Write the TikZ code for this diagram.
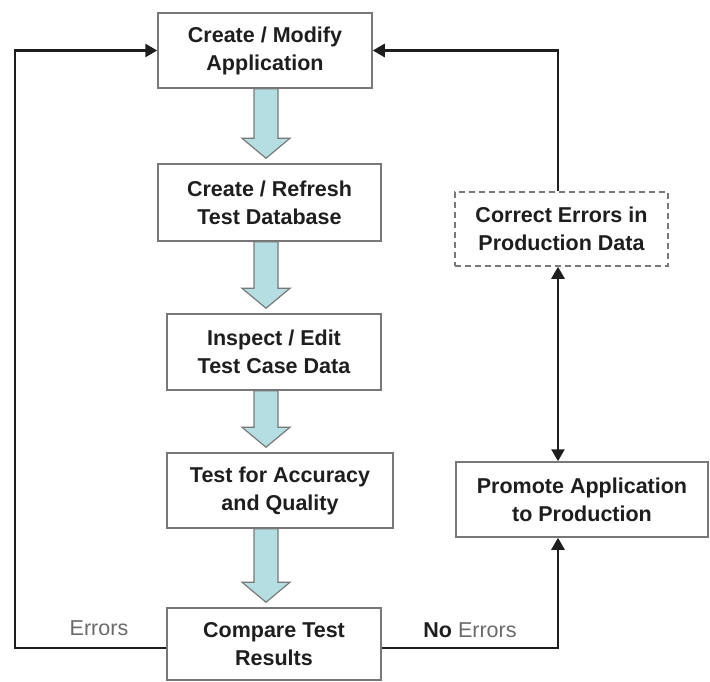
\documentclass[tikz,border=0pt]{standalone}
\usepackage{fontspec}
\setmainfont{Liberation Sans}
\usetikzlibrary{arrows.meta,calc}
\definecolor{boxline}{RGB}{120,120,120}
\definecolor{flowfill}{RGB}{180,222,226}
\definecolor{txtgray}{RGB}{105,105,105}
\definecolor{ink}{RGB}{30,30,30}

\tikzset{
  box/.style={rectangle,draw=boxline,line width=1.5pt,fill=white,align=center,
    font=\fontsize{21.5}{28}\selectfont\bfseries,text=ink,inner sep=2pt},
  conn/.style={draw=ink,line width=2.6pt},
  tip/.style={-{Triangle[length=12pt,width=13pt]}},
  flowarrow/.style={fill=flowfill,draw=boxline,line width=1.2pt},
  tag/.style={font=\fontsize{21.5}{28}\selectfont,text=txtgray}
}

\begin{document}
\begin{tikzpicture}[x=1pt,y=-1pt]
\useasboundingbox (0,0) rectangle (710,682);
% test cycle, left column
\node (b1) at (265,50.5) [box,minimum width=214pt,minimum height=75pt] {Create / Modify\\Application};
\node (b2) at (269.5,202.5) [box,minimum width=223pt,minimum height=77pt] {Create / Refresh\\Test Database};
\node (b3) at (274,352) [box,minimum width=214pt,minimum height=76pt] {Inspect / Edit\\Test Case Data};
\node (b4) at (280,490.5) [box,minimum width=226pt,minimum height=75pt] {Test for Accuracy\\and Quality};
\node (b5) at (274,644) [box,minimum width=214pt,minimum height=72pt] {Compare Test\\Results};
% production side
\node (prom) at (582,499.5) [box,minimum width=252pt,minimum height=75pt] {Promote Application\\to Production};
\node (fix) at (561.5,229) [box,dash pattern=on 6pt off 4pt,minimum width=213pt,minimum height=74pt] {Correct Errors in\\Production Data};
\coordinate (lft) at (15,648);
\coordinate (rgt) at (558,648);
% block arrows between the steps
\foreach \a/\b in {b1/b2,b2/b3,b3/b4,b4/b5} {
  \filldraw[flowarrow] let \p1=(\a.south), \p2=(\b.north) in
    (254pt,\y1) -- (278pt,\y1) -- (278pt,\y2+25pt) -- (290pt,\y2+25pt) -- (266pt,\y2+5pt)
    -- (242pt,\y2+25pt) -- (254pt,\y2+25pt) -- cycle;
}
% loops
\draw[conn,tip] (b5.west |- lft) -- (lft) |- (b1.west);
\draw[conn,tip] (b5.east |- rgt) -- (rgt) -- (prom.south -| rgt);
\draw[conn,tip] (fix.north -| rgt) |- (b1.east);
\draw[conn,{Triangle[length=12pt,width=13pt]}-{Triangle[length=12pt,width=13pt]}] (prom.north -| rgt) -- (fix.south -| rgt);
\node (err) at (99,628) [tag] {Errors};
\node (noerr) at (470,630) [tag] {{\bfseries\color{ink}No} Errors};
\end{tikzpicture}
\end{document}
